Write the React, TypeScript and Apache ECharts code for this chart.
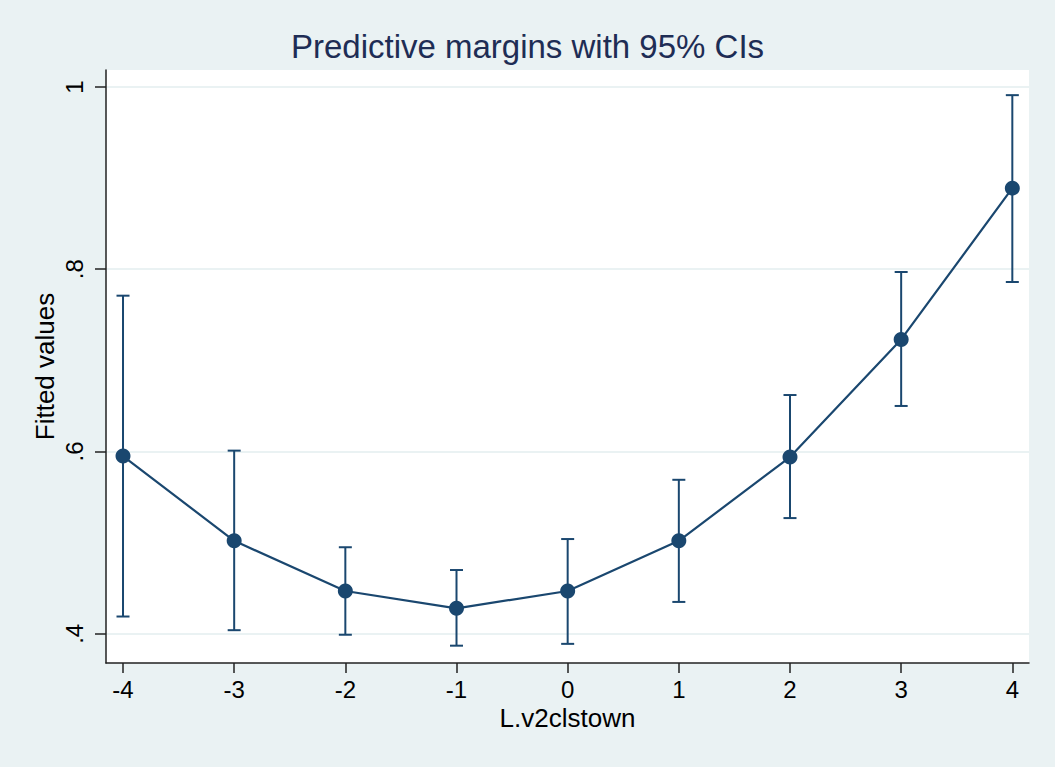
import React, { useEffect, useRef } from "react";
import * as echarts from "echarts";

const xValues = [-4, -3, -2, -1, 0, 1, 2, 3, 4];
const margins = [0.595, 0.502, 0.447, 0.428, 0.447, 0.502, 0.594, 0.723, 0.889];
const ciLower = [0.419, 0.404, 0.399, 0.387, 0.389, 0.435, 0.527, 0.65, 0.786];
const ciUpper = [0.771, 0.601, 0.495, 0.47, 0.504, 0.569, 0.662, 0.797, 0.991];
const yTicks = [0.4, 0.6, 0.8, 1];
const xTicks = [-4, -3, -2, -1, 0, 1, 2, 3, 4];

const titleText = "Predictive margins with 95% CIs";
const xName = "L.v2clstown";
const yName = "Fitted values";

const NAVY = "#1A476F";
const BG = "#EAF2F3";
const FONT = "'Liberation Sans', Arial, sans-serif";

export default function App() {
  const ref = useRef<HTMLDivElement>(null);
  useEffect(() => {
    if (!ref.current) return;
    const chart = echarts.init(ref.current, undefined, { renderer: "svg" });
    const pointData = xValues.map((x, i) => [x, margins[i]]);
    const ciData = xValues.map((x, i) => [x, ciLower[i], ciUpper[i]]);
    chart.setOption({
      animation: false,
      backgroundColor: BG,
      textStyle: { fontFamily: FONT },
      title: {
        text: titleText,
        left: "center",
        top: 25,
        textStyle: { fontFamily: FONT, fontSize: 33, fontWeight: "normal", color: "#1E2D55" },
      },
      grid: {
        left: 106,
        top: 70,
        right: 26,
        bottom: 104,
        show: true,
        backgroundColor: "#ffffff",
        borderWidth: 0,
        containLabel: false,
        outerBoundsMode: "none",
      },
      xAxis: {
        type: "value",
        min: -4.153,
        max: 4.15,
        name: xName,
        nameLocation: "middle",
        nameGap: 42,
        nameMoveOverlap: false,
        nameTextStyle: { fontFamily: FONT, fontSize: 26, color: "#000" },
        axisLine: { show: true, onZero: false, lineStyle: { color: "#222", width: 1.5 } },
        axisTick: { show: true, length: 10, customValues: xTicks, lineStyle: { color: "#222", width: 1.5 } },
        axisLabel: {
          customValues: xTicks,
          margin: 14,
          fontFamily: FONT,
          fontSize: 24,
          color: "#000",
          formatter: (v: number) => String(v),
        },
        splitLine: { show: false },
      },
      yAxis: {
        type: "value",
        min: 0.368,
        max: 1.0186,
        name: yName,
        nameLocation: "middle",
        nameGap: 48,
        nameMoveOverlap: false,
        nameRotate: 90,
        nameTextStyle: { fontFamily: FONT, fontSize: 26, color: "#000" },
        axisLine: { show: true, onZero: false, lineStyle: { color: "#222", width: 1.5 } },
        axisTick: { show: true, length: 11, customValues: yTicks, lineStyle: { color: "#222", width: 1.5 } },
        axisLabel: {
          customValues: yTicks,
          rotate: 90,
          margin: 20,
          fontFamily: FONT,
          fontSize: 24,
          color: "#000",
          formatter: (v: number) => (v === 1 ? "1" : String(v).replace(/^0/, "")),
        },
        splitLine: { show: true, lineStyle: { color: BG, width: 2 } },
      },
      series: [
        {
          type: "line",
          data: pointData,
          symbol: "circle",
          symbolSize: 15,
          z: 3,
          lineStyle: { color: NAVY, width: 2.2 },
          itemStyle: { color: NAVY },
        },
        {
          type: "custom",
          data: ciData,
          z: 2,
          encode: { x: 0, y: [1, 2] },
          renderItem: (params: any, api: any) => {
            const x = api.value(0);
            const lo = api.coord([x, api.value(1)]);
            const hi = api.coord([x, api.value(2)]);
            const hw = 6.5;
            const style = { stroke: NAVY, lineWidth: 2 };
            return {
              type: "group",
              children: [
                { type: "line", shape: { x1: lo[0], y1: lo[1], x2: hi[0], y2: hi[1] }, style },
                { type: "line", shape: { x1: lo[0] - hw, y1: lo[1], x2: lo[0] + hw, y2: lo[1] }, style },
                { type: "line", shape: { x1: hi[0] - hw, y1: hi[1], x2: hi[0] + hw, y2: hi[1] }, style },
              ],
            };
          },
        },
      ],
    });
    return () => chart.dispose();
  }, []);
  return (
    <div
      ref={ref}
      style={{ position: "absolute", left: 0, top: 0, width: 1055, height: 767 }}
    />
  );
}
